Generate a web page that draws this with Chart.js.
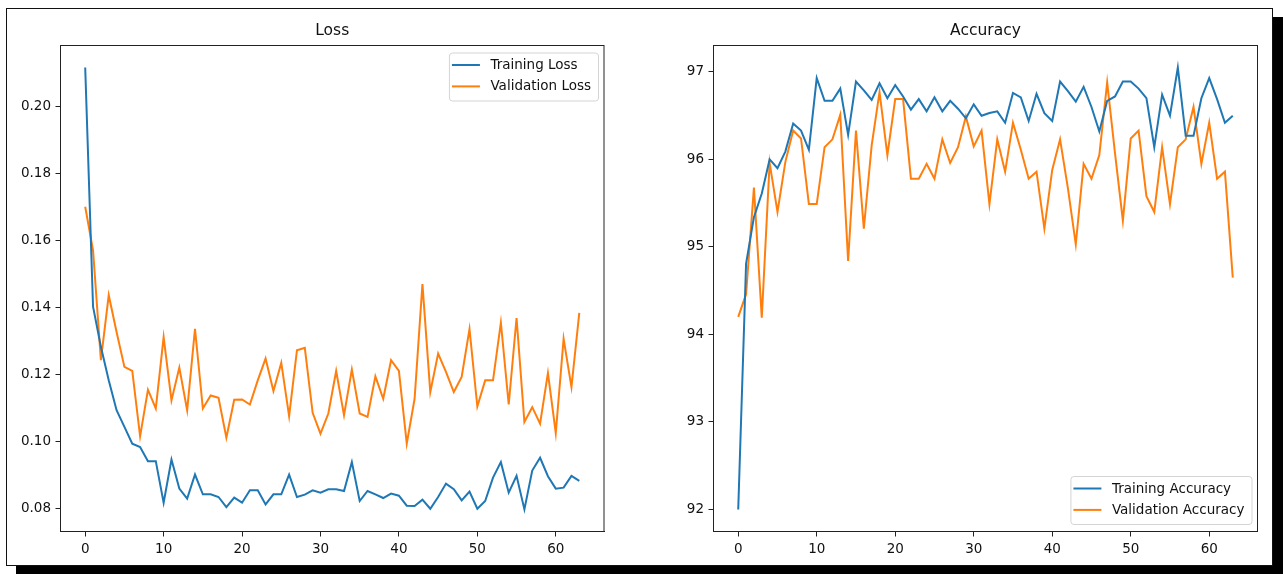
<!DOCTYPE html>
<html>
<head>
<meta charset="utf-8">
<title>Training curves</title>
<script src="https://cdn.jsdelivr.net/npm/chart.js@4.4.1/dist/chart.umd.min.js"></script>
<style>
  html, body { margin: 0; padding: 0; background: #fff; }
  body { width: 1283px; height: 574px; position: relative; overflow: hidden; }
  #frame {
    position: absolute; left: 6px; top: 8px;
    width: 1265px; height: 556px;
    border: 1.5px solid #111;
    box-shadow: 10px 9px 0 0 #000;
    background: #fff;
  }
  canvas { position: absolute; top: 0; z-index: 2; }
  #loss { left: 0; }
  #acc { left: 650px; }
</style>
</head>
<body>
<div id="frame"></div>
<canvas id="loss" width="650" height="574"></canvas>
<canvas id="acc" width="633" height="574"></canvas>
<script>
// Epoch index for every recorded value
const epochs = Array.from({ length: 64 }, (_, i) => i);

const trainLoss = [0.2115, 0.1402, 0.1282, 0.1182, 0.1093, 0.1043, 0.0993, 0.0983, 0.0941, 0.0941,
  0.0817, 0.0946, 0.0859, 0.0829, 0.0901, 0.0842, 0.0842, 0.0834, 0.0804, 0.0832,
  0.0817, 0.0854, 0.0854, 0.0812, 0.0842, 0.0842, 0.0901, 0.0834, 0.0841, 0.0854,
  0.0847, 0.0857, 0.0857, 0.0852, 0.0938, 0.0822, 0.0852, 0.0842, 0.0831, 0.0844,
  0.0838, 0.0808, 0.0807, 0.0826, 0.0799, 0.0834, 0.0874, 0.0857, 0.0824, 0.0850,
  0.0799, 0.0822, 0.0892, 0.0938, 0.0847, 0.0897, 0.0797, 0.0913, 0.0951, 0.0896,
  0.0859, 0.0862, 0.0897, 0.0882];

const valLoss = [0.1700, 0.1570, 0.1242, 0.1436, 0.1326, 0.1222, 0.1210, 0.1015, 0.1154, 0.1098,
  0.1311, 0.1122, 0.1220, 0.1093, 0.1336, 0.1098, 0.1137, 0.1130, 0.1011, 0.1124,
  0.1125, 0.1110, 0.1182, 0.1247, 0.1150, 0.1234, 0.1075, 0.1272, 0.1279, 0.1085,
  0.1023, 0.1083, 0.1210, 0.1078, 0.1214, 0.1083, 0.1073, 0.1194, 0.1127, 0.1242,
  0.1210, 0.0993, 0.1127, 0.1469, 0.1147, 0.1262, 0.1207, 0.1147, 0.1192, 0.1335,
  0.1104, 0.1182, 0.1182, 0.1354, 0.1110, 0.1368, 0.1058, 0.1102, 0.1053, 0.1204,
  0.1025, 0.1306, 0.1162, 0.1383];

const trainAcc = [92.00, 94.81, 95.34, 95.61, 96.00, 95.90, 96.09, 96.41, 96.33, 96.11,
  96.93, 96.67, 96.67, 96.81, 96.28, 96.89, 96.79, 96.68, 96.87, 96.70,
  96.85, 96.72, 96.57, 96.69, 96.55, 96.71, 96.55, 96.67, 96.58, 96.47,
  96.63, 96.50, 96.53, 96.55, 96.42, 96.76, 96.71, 96.44, 96.75, 96.53,
  96.44, 96.89, 96.78, 96.66, 96.83, 96.60, 96.32, 96.67, 96.72, 96.89,
  96.89, 96.81, 96.70, 96.14, 96.74, 96.50, 97.05, 96.27, 96.27, 96.70,
  96.93, 96.69, 96.42, 96.50];

const valAcc = [94.20, 94.46, 95.68, 94.19, 95.96, 95.40, 95.97, 96.33, 96.24, 95.49,
  95.49, 96.14, 96.23, 96.51, 94.84, 96.33, 95.21, 96.16, 96.77, 96.05,
  96.69, 96.69, 95.78, 95.78, 95.95, 95.78, 96.23, 95.96, 96.14, 96.49,
  96.15, 96.33, 95.49, 96.23, 95.86, 96.42, 96.11, 95.78, 95.86, 95.21,
  95.88, 96.23, 95.67, 95.03, 95.95, 95.78, 96.05, 96.88, 96.07, 95.30,
  96.24, 96.33, 95.58, 95.40, 96.14, 95.49, 96.14, 96.23, 96.60, 95.95,
  96.42, 95.78, 95.86, 94.65];

// Tick labels shown on the axes
const epochTicks = [0, 10, 20, 30, 40, 50, 60];
const lossTicks = [0.08, 0.10, 0.12, 0.14, 0.16, 0.18, 0.20];
const accTicks = [92, 93, 94, 95, 96, 97];

const BLUE = '#1f77b4';
const ORANGE = '#ff7f0e';
const FONT = 'DejaVu Sans';
const INK = '#111';

// Axis limits padded by 5% of the data span on each side
function paddedRange(values, frac = 0.05) {
  const lo = Math.min(...values), hi = Math.max(...values);
  const m = (hi - lo) * frac;
  return [lo - m, hi + m];
}

// Closed box around the plotting area
const axesBox = {
  id: 'axesBox',
  afterDraw(chart) {
    const { ctx, chartArea: a } = chart;
    ctx.save();
    ctx.strokeStyle = '#222';
    ctx.lineWidth = 1;
    ctx.strokeRect(a.left, a.top, a.right - a.left, a.bottom - a.top);
    ctx.restore();
  }
};

// Framed legend placed inside a corner of the plotting area
const boxLegend = {
  id: 'boxLegend',
  afterDraw(chart, args, opts) {
    const { ctx, chartArea: a } = chart;
    const sets = chart.data.datasets;
    ctx.save();
    ctx.font = `13.5px "${FONT}"`;
    const textW = Math.max(...sets.map(d => ctx.measureText(d.label).width));
    const w = 41.5 + textW + 7;
    const h = 48;
    const left = a.right - 6 - w;
    const top = opts.corner === 'upper right' ? a.top + 7 : a.bottom - 7.5 - h;
    ctx.beginPath();
    ctx.roundRect(left + 0.5, top + 0.5, w, h, 3);
    ctx.fillStyle = 'rgba(255,255,255,0.85)';
    ctx.fill();
    ctx.strokeStyle = '#d4d4d4';
    ctx.lineWidth = 1;
    ctx.stroke();
    sets.forEach((d, i) => {
      const y = top + 12.5 + i * 21.4;
      ctx.beginPath();
      ctx.moveTo(left + 3, y);
      ctx.lineTo(left + 31, y);
      ctx.strokeStyle = d.borderColor;
      ctx.lineWidth = 2;
      ctx.stroke();
      ctx.fillStyle = INK;
      ctx.textBaseline = 'middle';
      ctx.textAlign = 'left';
      ctx.fillText(d.label, left + 41.5, y + 0.5);
    });
    ctx.restore();
  }
};

function lineSet(label, data, color) {
  return {
    label, data,
    borderColor: color, backgroundColor: color,
    borderWidth: 2, pointRadius: 0, pointHoverRadius: 0,
    tension: 0, fill: false
  };
}

function makeChart(id, title, sets, yTicks, yFmt, corner, pad) {
  const allY = sets.flatMap(s => s.data);
  const [yMin, yMax] = paddedRange(allY);
  const [xMin, xMax] = paddedRange(epochs);
  const tickFont = { family: FONT, size: 13.5 };
  return new Chart(document.getElementById(id), {
    type: 'line',
    data: { labels: epochs, datasets: sets },
    plugins: [axesBox, boxLegend],
    options: {
      responsive: false,
      animation: false,
      devicePixelRatio: 1,
      events: [],
      layout: { padding: pad },
      plugins: {
        legend: { display: false },
        tooltip: { enabled: false },
        title: {
          display: true, text: title, fullSize: false,
          color: INK,
          font: { family: FONT, size: 15.5, weight: 'normal', lineHeight: 1.2 },
          padding: { top: 22, bottom: 4.9 }
        },
        boxLegend: { corner }
      },
      scales: {
        x: {
          type: 'linear', min: xMin, max: xMax,
          afterBuildTicks: s => { s.ticks = epochTicks.map(v => ({ value: v })); },
          afterFit: s => { s.height = 32.5; },
          grid: { drawOnChartArea: false, drawTicks: true, tickLength: 5, color: '#222', lineWidth: 1 },
          border: { display: true, color: '#222', width: 1 },
          ticks: { font: tickFont, color: INK, padding: 5, maxRotation: 0, autoSkip: false,
                   callback: v => String(v) }
        },
        y: {
          type: 'linear', min: yMin, max: yMax,
          afterBuildTicks: s => { s.ticks = yTicks.map(v => ({ value: v })); },
          afterFit: s => { s.width = 50; },
          grid: { drawOnChartArea: false, drawTicks: true, tickLength: 5, color: '#222', lineWidth: 1 },
          border: { display: true, color: '#222', width: 1 },
          ticks: { font: tickFont, color: INK, padding: 4.5, autoSkip: false, callback: yFmt }
        }
      }
    }
  });
}

makeChart('loss', 'Loss',
  [lineSet('Training Loss', trainLoss, BLUE), lineSet('Validation Loss', valLoss, ORANGE)],
  lossTicks, v => v.toFixed(2), 'upper right',
  { left: 10.5, right: 46, top: 0, bottom: 10 });

makeChart('acc', 'Accuracy',
  [lineSet('Training Accuracy', trainAcc, BLUE), lineSet('Validation Accuracy', valAcc, ORANGE)],
  accTicks, v => v.toFixed(0), 'lower right',
  { left: 13.5, right: 25.5, top: 0, bottom: 10 });
</script>
</body>
</html>
